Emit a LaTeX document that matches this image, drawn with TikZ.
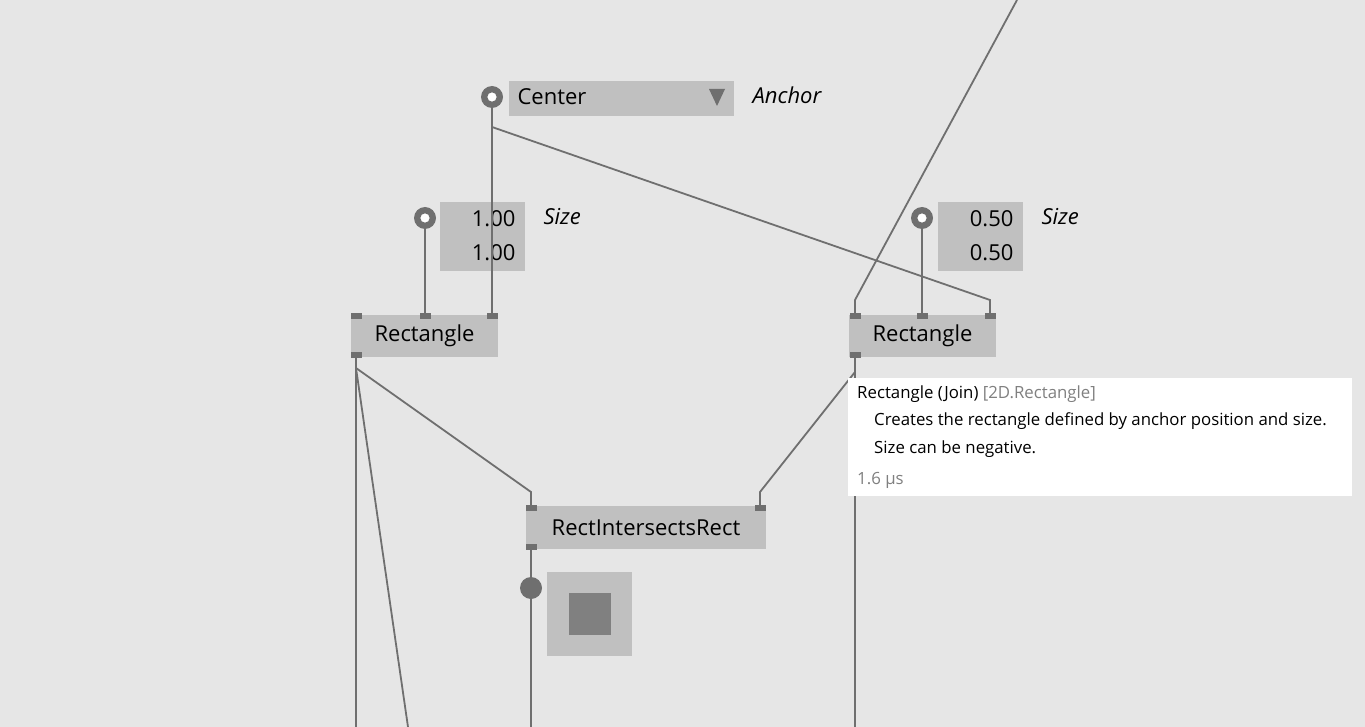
\documentclass[tikz,border=0pt]{standalone}
\usepackage{fontspec}
\setmainfont{Open Sans}
\usetikzlibrary{positioning}
\definecolor{bg}{HTML}{E6E6E6}
\definecolor{boxc}{HTML}{C0C0C0}
\definecolor{wirec}{HTML}{6F6F6F}
\definecolor{tipgray}{HTML}{808080}
\tikzset{
  nodebox/.style={fill=boxc, minimum width=147pt, minimum height=42pt, inner sep=0pt, font=\fontsize{22}{26}\selectfont},
  valbox/.style={fill=boxc, minimum width=85pt, minimum height=69pt, inner sep=0pt},
  port/.style={fill=wirec, minimum width=11pt, minimum height=6pt, inner sep=0pt},
  pin/.style={circle, fill=wirec, minimum size=22pt, inner sep=0pt},
  wire/.style={wirec, line width=1.8pt},
  lbl/.style={font=\fontsize{22}{26}\selectfont\itshape, anchor=west},
  val/.style={font=\fontsize{22}{26}\selectfont, anchor=east},
  tiptext/.style={anchor=west, font=\fontsize{16.8}{20}\selectfont, inner sep=0pt}
}
\begin{document}
\begin{tikzpicture}[x=1pt, y=-1pt]
    \fill[bg] (0,0) rectangle (1365,727);
    \useasboundingbox (0,0) rectangle (1365,727);

    % Anchor input
    \node[pin] (apin) at (492,97) {};
    \fill[white, draw=wirec, line width=1.5pt] (apin) circle (5.5);
    \node[fill=boxc, minimum width=225pt, minimum height=35pt, inner sep=0pt] (anchor) at (621.5,98.5) {};
    \node[anchor=west, font=\fontsize{22}{26}\selectfont] (center) at (514,97) {Center};
    \fill[wirec] (709,89) -- (725,89) -- (717,106) -- cycle; % dropdown
    \node[lbl] (anchorlbl) at (749,95) {Anchor};

    % Size inputs
    \node[pin] (spinA) at (425,218) {};
    \fill[white, draw=wirec, line width=1.5pt] (spinA) circle (5.5);
    \node[valbox] (sizeA) at (482.5,236.5) {};
    \node[val] (sizeAx) at (519,219) {1.00};
    \node[val] (sizeAy) at (519,253) {1.00};
    \node[lbl] (sizeAlbl) at (540,217) {Size};

    \node[pin] (spinB) at (922,218) {};
    \fill[white, draw=wirec, line width=1.5pt] (spinB) circle (5.5);
    \node[valbox] (sizeB) at (980.5,236.5) {};
    \node[val] (sizeBx) at (1017,219) {0.50};
    \node[val] (sizeBy) at (1017,253) {0.50};
    \node[lbl] (sizeBlbl) at (1038,217) {Size};

    % Rectangle nodes
    \node[nodebox] (rectA) at (424.5,336) {Rectangle};
    \node[port] (rectAi1) at (356,316) {};
    \node[port] (rectAi2) at (425,316) {};
    \node[port] (rectAi3) at (492,316) {};
    \node[port] (rectAo) at (356,355) {};

    \node[nodebox] (rectB) at (922.5,336) {Rectangle};
    \node[port] (rectBi1) at (855,316) {};
    \node[port] (rectBi2) at (922,316) {};
    \node[port] (rectBi3) at (990,316) {};
    \node[port] (rectBo) at (855,355) {};

    % Intersection node
    \node[nodebox, minimum width=240pt, minimum height=43pt] (inter) at (646,527.5) {RectIntersectsRect};
    \node[port] (interi1) at (531,508) {};
    \node[port] (interi2) at (760,508) {};
    \node[port] (intero) at (531,547) {};
    \node[pin] (opin) at (531,588) {};
    \node[fill=boxc, minimum width=85pt, minimum height=84pt, inner sep=0pt] (preview) at (589.5,614) {};
    \node[fill=tipgray, minimum size=42pt, inner sep=0pt] (previewsq) at (590,614) {};

    % Free ends
    \coordinate (top) at (1017,0);
    \coordinate (endA) at (356,727);
    \coordinate (endB) at (408,727);
    \coordinate (endC) at (531,727);
    \coordinate (endD) at (855,727);

    % Wires
    \draw[wire] (apin.south) -- (rectAi3.north);
    \draw[wire] (492,127) -- (990,300) -- (rectBi3.north);
    \draw[wire] (spinA.south) -- (rectAi2.north);
    \draw[wire] (spinB.south) -- (rectBi2.north);
    \draw[wire] (top) -- (855,300) -- (rectBi1.north);
    \draw[wire] (rectAo.south) -- (endA);
    \draw[wire] (356,368) -- (endB);
    \draw[wire] (356,368) -- (531,492) -- (interi1.north);
    \draw[wire] (rectBo.south) -- (endD);
    \draw[wire] (855,372) -- (760,492) -- (interi2.north);
    \draw[wire] (intero.south) -- (opin) -- (endC);

    % Tooltip
    \node[fill=white, minimum width=504pt, minimum height=118pt, inner sep=0pt] (tip) at (1100,437) {};
    \node[tiptext] (tipt) at (857,394) {Rectangle (Join) \textcolor{tipgray}{[2D.Rectangle]}};
    \node[tiptext] (tip1) at (874,421) {Creates the rectangle defined by anchor position and size.};
    \node[tiptext] (tip2) at (874,449) {Size can be negative.};
    \node[tiptext, text=tipgray] (tip3) at (857,480) {1.6 μs};
\end{tikzpicture}
\end{document}
